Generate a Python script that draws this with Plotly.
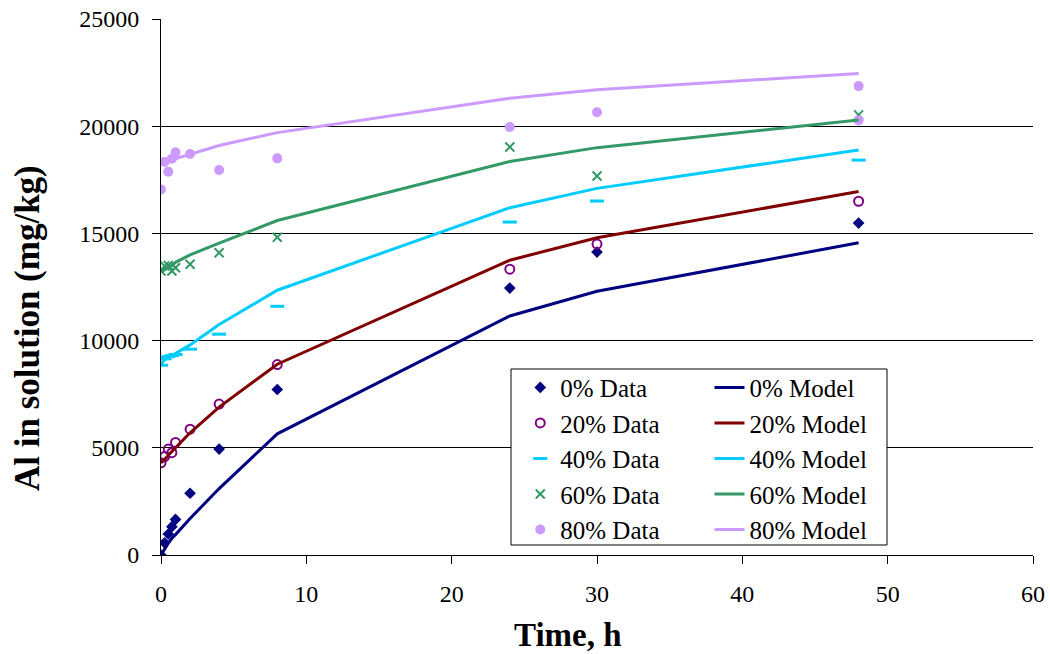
import plotly.graph_objects as go

t_data = [0, 0.25, 0.5, 0.75, 1, 2, 4, 8, 24, 30, 48]
t_model = [0, 0.25, 0.5, 0.75, 1, 2, 4, 8, 24, 30, 48]

d0 = [0, 570, 980, 1320, 1660, 2880, 4940, 7720, 12450, 14130, 15480]
d20 = [4300, 4590, 4940, 4770, 5250, 5870, 7040, 8880, 13330, 14500, 16500]
d40 = [8850, 9150, 9250, 9300, 9350, 9600, 10300, 11600, 15530, 16510, 18420]
d60 = [13250, 13480, 13500, 13250, 13400, 13560, 14100, 14820, 19030, 17680, 20530]
t80 = [0, 0.25, 0.5, 0.75, 1, 2, 4, 8, 24, 30, 48, 48]
d80 = [17050, 18330, 17880, 18480, 18780, 18700, 17960, 18500, 19960, 20650, 21870, 20270]

m0 = [0, 300, 550, 780, 950, 1700, 3100, 5650, 11150, 12300, 14560]
m20 = [4300, 4450, 4650, 4850, 5000, 5700, 6900, 8900, 13750, 14800, 16950]
m40 = [8900, 9100, 9200, 9300, 9400, 9800, 10750, 12350, 16200, 17100, 18890]
m60 = [13200, 13300, 13400, 13500, 13650, 14000, 14550, 15600, 18350, 19000, 20290]
m80 = [18280, 18330, 18380, 18430, 18480, 18700, 19100, 19700, 21300, 21700, 22460]

labels = ["0%", "20%", "40%", "60%", "80%"]
colors_data = ["#000080", "#800080", "#00CCFF", "#339966", "#CC99FF"]
colors_model = ["#000080", "#800000", "#00CCFF", "#339966", "#CC99FF"]
symbols = ["diamond", "circle-open", "line-ew", "x-thin", "circle"]
sizes = [9, 9, 10, 9, 10]

data_y = [d0, d20, d40, d60, d80]
data_t = [t_data, t_data, t_data, t_data, t80]
model_y = [m0, m20, m40, m60, m80]

FONT = "Liberation Serif, Times New Roman, serif"

# plot area targeted at x 161..1033, y 19..555 (page px)
W, H = 1050, 654
PW, PH = 1033 - 161, 555 - 19


def px(xp):
    return (xp - 161) / PW


def py(yp):
    return (555 - yp) / PH


fig = go.Figure()
for i in range(5):
    mk = dict(symbol=symbols[i], size=sizes[i], color=colors_data[i])
    if symbols[i] in ("circle-open", "line-ew", "x-thin"):
        mk["line"] = dict(color=colors_data[i], width=2 if symbols[i] != "line-ew" else 3)
    fig.add_trace(go.Scatter(
        x=data_t[i], y=data_y[i], mode="markers", marker=mk,
        name=f"{labels[i]} Data", legend="legend", legendgroup=f"d{i}"))
for i in range(5):
    fig.add_trace(go.Scatter(
        x=t_model, y=model_y[i], mode="lines",
        line=dict(color=colors_model[i], width=3),
        name=f"{labels[i]} Model", legend="legend2", legendgroup=f"m{i}"))

legend_common = dict(
    font=dict(family=FONT, size=25, color="black"),
    bgcolor="rgba(0,0,0,0)", borderwidth=0,
    tracegroupgap=0, itemwidth=30,
    xanchor="left", yanchor="top",
)

fig.update_layout(
    width=W, height=H,
    margin=dict(l=161, r=1050 - 1033, t=19, b=654 - 555),
    paper_bgcolor="white", plot_bgcolor="white",
    font=dict(family=FONT, size=20, color="black"),
    showlegend=True,
    legend=dict(x=0.412, y=0.355, **legend_common),
    legend2=dict(x=0.629, y=0.355, **legend_common),
    xaxis=dict(
        range=[0, 60], dtick=10, showgrid=False, zeroline=False,
        showline=True, linecolor="black", linewidth=1,
        ticks="outside", ticklen=8, tickcolor="black", ticklabelstandoff=9,
        tickfont=dict(family=FONT, size=24), automargin=False,
        ticklabeloverflow="allow",
    ),
    yaxis=dict(
        range=[0, 25000], dtick=5000, tickformat="d",
        showgrid=True, gridcolor="black", gridwidth=1,
        zeroline=False, showline=True, linecolor="black", linewidth=1,
        ticks="outside", ticklen=8, tickcolor="black", ticklabelstandoff=8,
        tickfont=dict(family=FONT, size=24), automargin=False,
        ticklabeloverflow="allow",
    ),
    annotations=[
        dict(text="<b>Time, h</b>", xref="paper", yref="paper",
             x=px(568), y=py(635), xanchor="center", yanchor="middle",
             showarrow=False, font=dict(family=FONT, size=33, color="black")),
        dict(text="<b>Al in solution (mg/kg)</b>", xref="paper", yref="paper",
             x=px(27), y=py(328), xanchor="center", yanchor="middle", textangle=-90,
             showarrow=False, font=dict(family=FONT, size=35, color="black")),
    ],
    shapes=[dict(type="rect", xref="paper", yref="paper",
                 x0=px(511), x1=px(887), y0=py(545), y1=py(369),
                 line=dict(color="black", width=1), fillcolor="white", layer="above")],
)

fig.write_html(
    "out.html",
    config={"displayModeBar": False},
    post_script="document.body.style.margin='0';document.body.style.overflow='hidden';",
)
